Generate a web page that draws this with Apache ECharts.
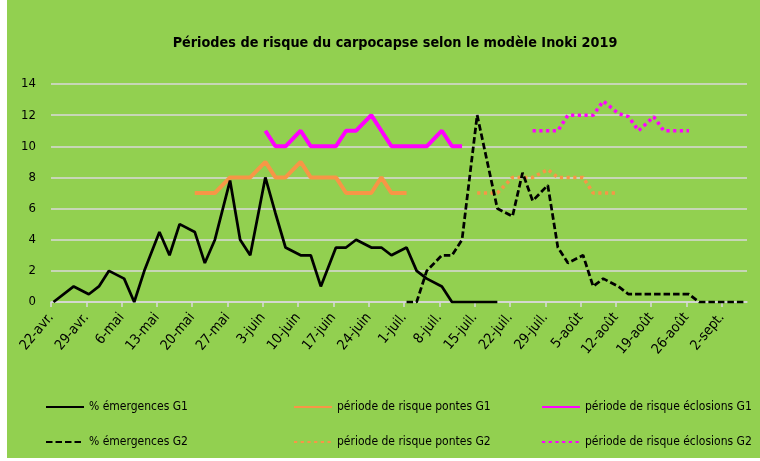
<!DOCTYPE html>
<html>
<head>
<meta charset="utf-8">
<script src="https://cdn.jsdelivr.net/npm/echarts@6.0.0/dist/echarts.min.js"></script>
<style>
  body { margin: 0; background: #fff; }
  #chart { width: 760px; height: 461px; }
</style>
</head>
<body>
<div id="chart"></div>
<script>
// jours comptés depuis le 22 avril 2019
const tickLabels = ['22-avr.', '29-avr.', '6-mai', '13-mai', '20-mai', '27-mai', '3-juin', '10-juin', '17-juin', '24-juin',
  '1-juil.', '8-juil.', '15-juil.', '22-juil.', '29-juil.', '5-août', '12-août', '19-août', '26-août', '2-sept.']

const emergG1Days = [0, 4, 7, 9, 11, 14, 16, 18, 21, 23, 25, 28, 30, 32, 35, 37, 39, 42, 44, 46, 49, 51, 53, 56, 58, 60, 63, 65, 67, 70, 72, 74, 77, 79, 81, 84, 86, 88]
const emergG1Vals = [0, 1, 0.5, 1, 2, 1.5, 0, 2, 4.5, 3, 5, 4.5, 2.5, 4, 7.8, 4, 3, 8, 5.7, 3.5, 3, 3, 1, 3.5, 3.5, 4, 3.5, 3.5, 3, 3.5, 2, 1.5, 1, 0, 0, 0, 0, 0]

const pontesG1Days = [28, 30, 32, 35, 37, 39, 42, 44, 46, 49, 51, 53, 56, 58, 60, 63, 65, 67, 70]
const pontesG1Vals = [7, 7, 7, 8, 8, 8, 9, 8, 8, 9, 8, 8, 8, 7, 7, 7, 8, 7, 7]

const eclosG1Days = [42, 44, 46, 49, 51, 53, 56, 58, 60, 63, 65, 67, 70, 72, 74, 77, 79, 81]
const eclosG1Vals = [11, 10, 10, 11, 10, 10, 10, 11, 11, 12, 11, 10, 10, 10, 10, 11, 10, 10]

const emergG2Days = [70, 72, 74, 77, 79, 81, 84, 86, 88, 91, 93, 95, 98, 100, 102, 105, 107, 109, 112, 114, 116, 119, 121, 123, 126, 128, 130, 133, 135, 137]
const emergG2Vals = [0, 0, 2, 3, 3, 4, 12, 9, 6, 5.5, 8.3, 6.5, 7.5, 3.5, 2.5, 3, 1, 1.5, 1, 0.5, 0.5, 0.5, 0.5, 0.5, 0.5, 0, 0, 0, 0, 0]

const pontesG2Days = [84, 86, 88, 91, 93, 95, 98, 100, 102, 105, 107, 109, 112]
const pontesG2Vals = [7, 7, 7, 8, 8, 8, 8.5, 8, 8, 8, 7, 7, 7]

const eclosG2Days = [95, 98, 100, 102, 105, 107, 109, 112, 114, 116, 119, 121, 123, 126]
const eclosG2Vals = [11, 11, 11, 12, 12, 12, 12.9, 12.1, 11.9, 11, 11.9, 11, 11, 11]

const font = "'Liberation Sans Narrow', 'DejaVu Sans Condensed', 'Liberation Sans', sans-serif"
const pairs = (days, vals) => days.map((d, i) => [d, vals[i]])
// les graduations tombent entre deux jours
const tickDays = tickLabels.map((_, i) => i * 7 - 0.5)

function line(name, days, vals, color, width, type) {
  return {
    name: name,
    type: 'line',
    data: pairs(days, vals),
    symbol: 'none',
    animation: false,
    lineStyle: { color: color, width: width, type: type, cap: 'butt' },
    itemStyle: { color: color }
  }
}

const legendBase = {
  orient: 'vertical',
  top: 396,
  itemWidth: 38,
  itemHeight: 14,
  itemGap: 23,
  itemStyle: { opacity: 0 },
  textStyle: { fontFamily: font, fontSize: 12, color: '#000' }
}

var myChart = echarts.init(document.getElementById('chart'))
myChart.setOption({
  backgroundColor: '#92D050',
  graphic: [
    { type: 'rect', left: 0, top: 0, shape: { width: 7, height: 461 }, style: { fill: '#fff' } },
    { type: 'rect', left: 0, top: 458, shape: { width: 760, height: 3 }, style: { fill: '#fff' } }
  ],
  title: {
    text: 'Périodes de risque du carpocapse selon le modèle Inoki 2019',
    left: 390,
    textAlign: 'center',
    top: 31,
    textStyle: { fontFamily: font, fontSize: 14.3, fontWeight: 'bold', color: '#000' }
  },
  legend: [
    Object.assign({ left: 40, data: ['% émergences G1', '% émergences G2'] }, legendBase),
    Object.assign({ left: 288, data: ['période de risque pontes G1', 'période de risque pontes G2'] }, legendBase),
    Object.assign({ left: 536, data: ['période de risque éclosions G1', 'période de risque éclosions G2'] }, legendBase)
  ],
  grid: { left: 51, right: 13, top: 84, bottom: 159 },
  xAxis: {
    type: 'value',
    min: -0.5,
    max: 137.5,
    splitLine: { show: false },
    axisLine: { lineStyle: { color: '#D9D9D9', width: 1.5 } },
    axisTick: { customValues: tickDays, length: 5, lineStyle: { color: '#D9D9D9', width: 1.5 } },
    axisLabel: {
      customValues: tickDays,
      rotate: 50,
      margin: 13,
      fontFamily: font,
      fontSize: 14,
      color: '#000',
      formatter: v => tickLabels[Math.round((v + 0.5) / 7)]
    }
  },
  yAxis: {
    type: 'value',
    min: 0,
    max: 14,
    interval: 2,
    axisLine: { show: false },
    axisTick: { show: false },
    axisLabel: { fontFamily: font, fontSize: 13, color: '#000', margin: 15 },
    splitLine: { lineStyle: { color: '#D9D9D9', width: 1.5 } }
  },
  series: [
    line('période de risque éclosions G1', eclosG1Days, eclosG1Vals, '#FF00FF', 4, 'solid'),
    line('période de risque pontes G1', pontesG1Days, pontesG1Vals, '#F79646', 4, 'solid'),
    line('période de risque éclosions G2', eclosG2Days, eclosG2Vals, '#FF00FF', 3.5, [3.2, 3.5]),
    line('période de risque pontes G2', pontesG2Days, pontesG2Vals, '#F79646', 3.5, [3.2, 3.5]),
    line('% émergences G2', emergG2Days, emergG2Vals, '#000', 2.75, [6.5, 3]),
    line('% émergences G1', emergG1Days, emergG1Vals, '#000', 2.75, 'solid')
  ]
})
</script>
</body>
</html>
